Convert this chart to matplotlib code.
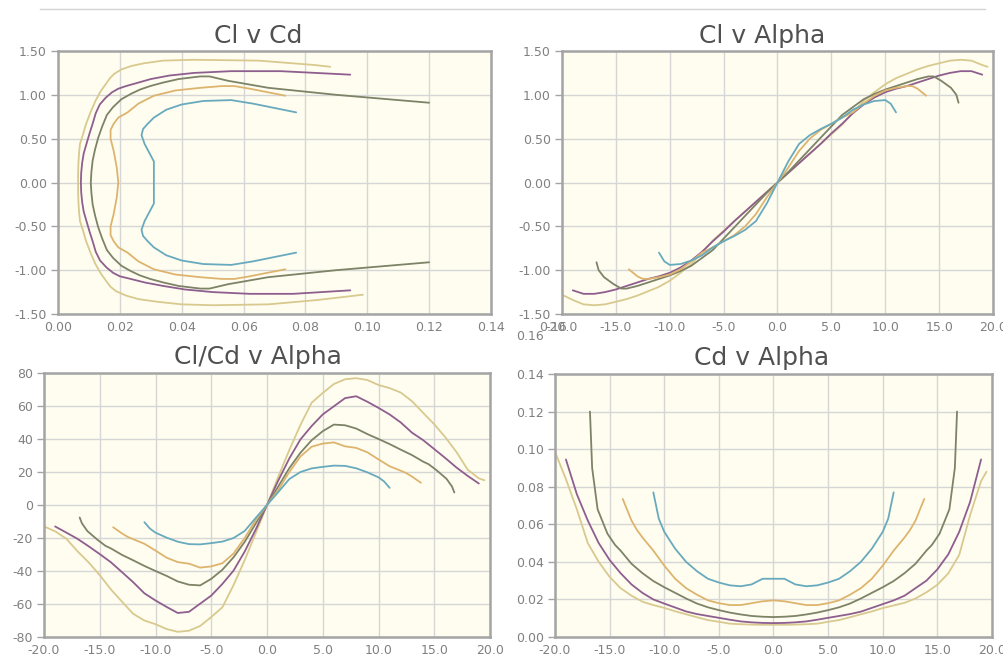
import matplotlib
matplotlib.use("Agg")
import matplotlib.pyplot as plt
from matplotlib.lines import Line2D
import numpy as np

plt.rcParams['font.family'] = ['DejaVu Sans']

# ---------------- data ----------------
alpha_a = [-20, -19, -18, -17, -16, -15, -14, -13, -12, -11, -10, -9, -8, -7, -6, -5, -4, -3, -2, -1,
           0, 1, 2, 3, 4, 5, 6, 7, 8, 9, 10, 11, 12, 13, 14, 15, 16, 17, 18, 19, 19.5]
cl_a = [-1.28, -1.34, -1.39, -1.40, -1.39, -1.36, -1.33, -1.29, -1.24, -1.19, -1.12, -1.03, -0.93, -0.80,
        -0.66, -0.55, -0.44, -0.33, -0.22, -0.11,
        0.0, 0.11, 0.22, 0.33, 0.44, 0.55, 0.66, 0.80, 0.93, 1.03, 1.12, 1.19, 1.24, 1.29, 1.33, 1.36,
        1.39, 1.40, 1.39, 1.34, 1.32]
cd_a = [0.0986, 0.084, 0.068, 0.050, 0.040, 0.032, 0.026, 0.022, 0.0188, 0.0170, 0.0155, 0.0137,
        0.0121, 0.0105, 0.0090, 0.0081, 0.0071, 0.0068, 0.0066, 0.0065,
        0.0065, 0.0065, 0.0066, 0.0068, 0.0071, 0.0081, 0.0090, 0.0105, 0.0121, 0.0136, 0.0154, 0.0168,
        0.0182, 0.0205, 0.0238, 0.0278, 0.0339, 0.0437, 0.065, 0.083, 0.088]

alpha_b = [-19, -18, -17, -16, -15, -14, -13, -12, -11, -10, -9, -8, -7, -6, -5, -4, -3, -2, -1,
           0, 1, 2, 3, 4, 5, 6, 7, 8, 9, 10, 11, 12, 13, 14, 15, 16, 17, 18, 19]
cl_b = [-1.23, -1.27, -1.27, -1.25, -1.22, -1.18, -1.14, -1.10, -1.07, -1.03, -0.97, -0.89, -0.79, -0.67,
        -0.56, -0.44, -0.33, -0.22, -0.11,
        0.0, 0.11, 0.22, 0.33, 0.44, 0.56, 0.67, 0.79, 0.89, 0.97, 1.03, 1.07, 1.10, 1.14, 1.18, 1.22,
        1.25, 1.27, 1.27, 1.23]
cd_b = [0.0945, 0.076, 0.062, 0.050, 0.041, 0.034, 0.028, 0.0235, 0.0200, 0.0178, 0.0157, 0.0136, 0.0122,
        0.0112, 0.0102, 0.0092, 0.0083, 0.0078, 0.0075,
        0.0074, 0.0075, 0.0078, 0.0083, 0.0092, 0.0102, 0.0112, 0.0122, 0.0135, 0.0155, 0.0175, 0.0195,
        0.022, 0.026, 0.030, 0.036, 0.044, 0.056, 0.072, 0.0945]

alpha_c = [-16.8, -16.6, -16.1, -15.2, -14.5, -14, -13, -12, -11, -10, -9, -8, -7, -6, -5, -4, -3, -2, -1,
           0, 1, 2, 3, 4, 5, 6, 7, 8, 9, 10, 11, 12, 13, 14, 14.5, 15.2, 16.1, 16.6, 16.8]
cl_c = [-0.91, -1.00, -1.08, -1.16, -1.21, -1.21, -1.18, -1.14, -1.10, -1.06, -1.01, -0.95, -0.86, -0.77,
        -0.64, -0.51, -0.38, -0.25, -0.12,
        0.0, 0.12, 0.25, 0.38, 0.51, 0.64, 0.77, 0.86, 0.95, 1.01, 1.06, 1.10, 1.14, 1.18, 1.21, 1.21,
        1.16, 1.08, 1.00, 0.91]
cd_c = [0.120, 0.090, 0.068, 0.055, 0.049, 0.046, 0.039, 0.034, 0.0298, 0.0265, 0.0235, 0.0205, 0.0178,
        0.0158, 0.0143, 0.0130, 0.0120, 0.0112, 0.0108,
        0.0106, 0.0108, 0.0112, 0.0120, 0.0130, 0.0143, 0.0158, 0.0178, 0.0205, 0.0235, 0.0265, 0.0298,
        0.034, 0.039, 0.046, 0.049, 0.055, 0.068, 0.090, 0.120]

alpha_d = [-13.8, -13, -12.5, -12, -11, -10, -9, -8, -7, -6, -5, -4, -3, -2, -1,
           0, 1, 2, 3, 4, 5, 6, 7, 8, 9, 10, 11, 12, 12.5, 13, 13.8]
cl_d = [-0.99, -1.07, -1.10, -1.10, -1.08, -1.05, -0.99, -0.90, -0.80, -0.74, -0.67, -0.60, -0.50, -0.36,
        -0.17,
        0.0, 0.17, 0.36, 0.50, 0.60, 0.67, 0.74, 0.80, 0.90, 0.99, 1.05, 1.08, 1.10, 1.10, 1.07, 0.99]
cd_d = [0.0735, 0.062, 0.057, 0.053, 0.046, 0.038, 0.031, 0.026, 0.0225, 0.0195, 0.018, 0.017, 0.017,
        0.018, 0.019,
        0.0195, 0.019, 0.018, 0.017, 0.017, 0.018, 0.0195, 0.0225, 0.026, 0.031, 0.038, 0.046, 0.053,
        0.057, 0.062, 0.0735]

alpha_e = [-11, -10.5, -10, -9, -8, -7, -6, -5, -4, -3, -2, -1,
           0, 1, 2, 3, 4, 5, 6, 7, 8, 9, 10, 10.5, 11]
cl_e = [-0.80, -0.90, -0.94, -0.93, -0.89, -0.83, -0.74, -0.67, -0.61, -0.54, -0.44, -0.24,
        0.0, 0.24, 0.44, 0.54, 0.61, 0.67, 0.74, 0.83, 0.89, 0.93, 0.94, 0.90, 0.80]
cd_e = [0.077, 0.063, 0.056, 0.047, 0.040, 0.035, 0.031, 0.029, 0.0275, 0.027, 0.028, 0.031,
        0.031, 0.031, 0.028, 0.027, 0.0275, 0.029, 0.031, 0.035, 0.040, 0.047, 0.056, 0.063, 0.077]

alphas = [alpha_a, alpha_b, alpha_c, alpha_d, alpha_e]
cls = [cl_a, cl_b, cl_c, cl_d, cl_e]
cds = [cd_a, cd_b, cd_c, cd_d, cd_e]
colors = ["#D8C98E", "#8E5E8E", "#7D8366", "#DDB46E", "#68AABD"]

titles = ["Cl v Cd", "Cl v Alpha", "Cl/Cd v Alpha", "Cd v Alpha"]
cl_ticks = [-1.5, -1.0, -0.5, 0.0, 0.5, 1.0, 1.5]
cd_ticks_x = [0.00, 0.02, 0.04, 0.06, 0.08, 0.10, 0.12, 0.14]
alpha_ticks = [-20, -15, -10, -5, 0, 5, 10, 15, 20]
ratio_ticks = [-80, -60, -40, -20, 0, 20, 40, 60, 80]
cd_ticks_y = [0.00, 0.02, 0.04, 0.06, 0.08, 0.10, 0.12, 0.14]

# ---------------- figure ----------------
W, H = 1004, 657
fig = plt.figure(figsize=(W / 100, H / 100), dpi=100)
fig.patch.set_facecolor("white")


def px_axes(l, t, r, b):
    return fig.add_axes([l / W, 1 - b / H, (r - l) / W, (b - t) / H])


ax1 = px_axes(58, 51, 491, 314)
ax2 = px_axes(562, 51, 993, 314)
ax3 = px_axes(44, 373, 490, 637)
ax4 = px_axes(555, 374, 992, 637)

TICKC = "#808080"
TS = 9


def style(ax, xlim, ylim, xt, yt, xf, yf):
    ax.set_facecolor("#FFFDF0")
    ax.set_xlim(xlim)
    ax.set_ylim(ylim)
    ax.set_xticks(xt)
    ax.set_yticks(yt)
    ax.set_xticklabels([xf.format(v) for v in xt])
    ax.set_yticklabels([yf.format(v) for v in yt])
    ax.grid(True, color="#D6D6D6", lw=1.0)
    ax.set_axisbelow(True)
    for s in ax.spines.values():
        s.set_color("#A4A4A4")
        s.set_linewidth(1.8)
    ax.tick_params(axis='y', length=5, width=1, color="#A4A4A4", labelsize=TS,
                   labelcolor=TICKC, pad=3)
    ax.tick_params(axis='x', length=0, labelsize=TS, labelcolor=TICKC, pad=5)


style(ax1, (0, 0.14), (-1.5, 1.5), cd_ticks_x, cl_ticks, "{:.2f}", "{:.2f}")
style(ax2, (-20, 20), (-1.5, 1.5), alpha_ticks, cl_ticks, "{:.1f}", "{:.2f}")
style(ax3, (-20, 20), (-80, 80), alpha_ticks, ratio_ticks, "{:.1f}", "{:.0f}")
style(ax4, (-20, 20), (0, 0.14), alpha_ticks, cd_ticks_y, "{:.1f}", "{:.2f}")

lw = 1.3
for a, cl, cd, c in zip(alphas, cls, cds, colors):
    a = np.array(a, float)
    cl = np.array(cl, float)
    cd = np.array(cd, float)
    ax1.plot(cd, cl, color=c, lw=lw, solid_capstyle='round')
    ax2.plot(a, cl, color=c, lw=lw, solid_capstyle='round')
    ax3.plot(a, cl / cd, color=c, lw=lw, solid_capstyle='round')
    ax4.plot(a, cd, color=c, lw=lw, solid_capstyle='round')

# stray tick labels just outside the frames (as in the reference)
ax1.annotate("0.16", xy=(0.16, -1.5), xytext=(0, -5), textcoords="offset points",
             ha="center", va="top", fontsize=TS, color=TICKC, annotation_clip=False)
ax4.annotate("0.16", xy=(-20, 0.16), xytext=(-8, 0), textcoords="offset points",
             ha="right", va="center", fontsize=TS, color=TICKC, annotation_clip=False)

# titles
title_pos = [(258, 36), (762, 36), (258, 357), (762, 358)]
for t, (x, y) in zip(titles, title_pos):
    fig.text(x / W, 1 - y / H, t, ha="center", va="center", fontsize=18, color="#505050")

# thin rule at the top
fig.add_artist(Line2D([40 / W, 985 / W], [1 - 9 / H, 1 - 9 / H], color="#D4D4D4", lw=1.0))

fig.savefig("out.png", dpi=100, facecolor="white")
